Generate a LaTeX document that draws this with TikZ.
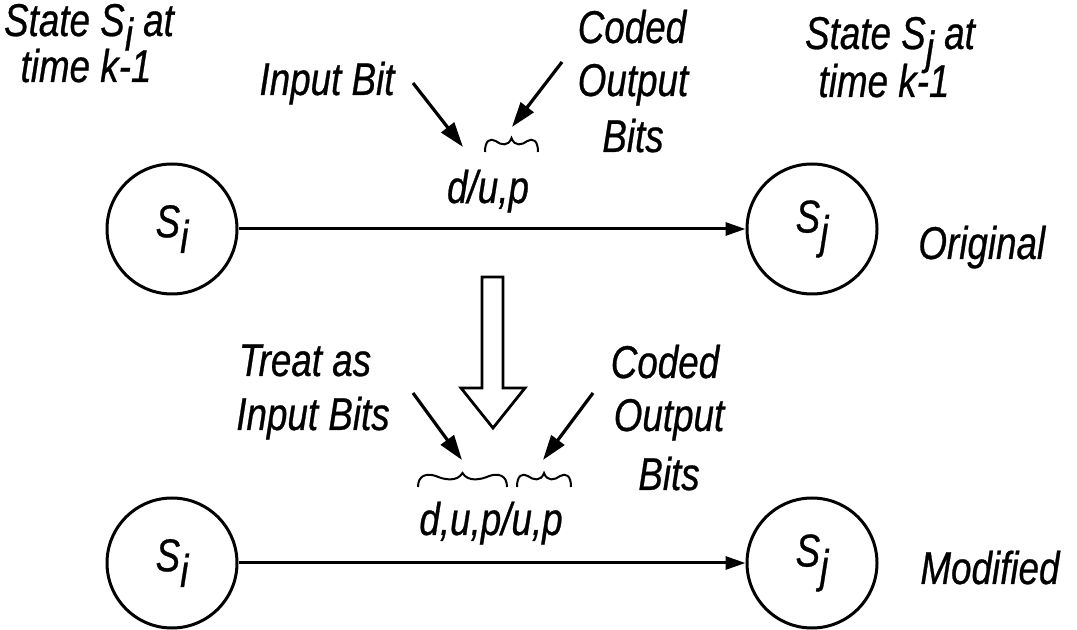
\documentclass[tikz,border=0pt]{standalone}
\usepackage{fontspec}
\setmainfont{Liberation Sans}[FakeStretch=0.80, FakeBold=0.6]
\usetikzlibrary{arrows.meta}

% subscripts set at full size and dropped below the baseline
\newcommand\lowsub[1]{\raisebox{-0.32em}{#1}}
\newcommand\statesub[1]{\raisebox{-0.34em}{#1}}

\tikzset{
  pics/overwave/.style={code={
    \draw[wavy] (0,14) .. controls (0,2) and (#1*0.1,0) .. (#1*0.2,3)
      .. controls (#1*0.3,7) and (#1*0.44,9) .. (#1*0.5,0)
      .. controls (#1*0.56,9) and (#1*0.7,7) .. (#1*0.8,3)
      .. controls (#1*0.9,0) and (#1,2) .. (#1,14);
  }}
}

\begin{document}
\begin{tikzpicture}[x=0.5pt,y=-0.5pt,
  lbl/.style={font=\fontsize{23}{28}\selectfont\itshape, inner sep=0, anchor=base},
  state/.style={circle, draw, line width=1.5pt, minimum size=65pt, inner sep=0,
    font=\fontsize{23}{28}\selectfont\itshape},
  flow/.style={line width=1.5pt, -{Triangle[length=10pt,width=6.5pt]}},
  pointer/.style={line width=1.6pt, -{Triangle[length=12.5pt,width=8pt]}},
  wavy/.style={line width=1pt},
  hollow/.style={line width=1.4pt, fill=white, line join=miter}
]
\useasboundingbox (0,0) rectangle (1077,630);

% states and transitions
\node[state] (si1) at (172,229) {S\statesub{i}};
\node[state] (sj1) at (812,229) {S\statesub{j}};
\node[state] (si2) at (172,563) {S\statesub{i}};
\node[state] (sj2) at (812,563) {S\statesub{j}};
\draw[flow] (si1) -- (sj1);
\draw[flow] (si2) -- (sj2);

\node[lbl, anchor=base west] (orig) at (918,259) {Original};
\node[lbl, anchor=base west] (modif) at (920,584) {Modified};

% state captions
\node[lbl] (sicap1) at (89,36) {State S\lowsub{i} at};
\node[lbl] (sicap2) at (86,82) {time k-1};
\node[lbl] (sjcap1) at (890,49) {State S\lowsub{j} at};
\node[lbl] (sjcap2) at (884,97) {time k-1};

% original branch label
\node[lbl] (lab1) at (488,203) {d/u,p};
\pic (wv1) at (485,138) {overwave=53};
\node[lbl] (inbit) at (327,95) {Input Bit};
\node[lbl] (cod1a) at (632,43) {Coded};
\node[lbl] (cod1b) at (633,96) {Output};
\node[lbl] (cod1c) at (633,152) {Bits};
\coordinate (p1s) at (413,83);  \coordinate (p1e) at (463,147);
\coordinate (p2s) at (562,62);  \coordinate (p2e) at (512,127);
\draw[pointer] (p1s) -- (p1e);
\draw[pointer] (p2s) -- (p2e);

% transformation arrow
\draw[hollow] (482,277) -- (503,277) -- (503,388) -- (525,388) -- (493,428)
  -- (461,388) -- (482,388) -- cycle;

% modified branch label
\node[lbl] (lab2) at (491,535) {d,u,p/u,p};
\pic (wv2) at (418,473) {overwave=89};
\pic (wv3) at (517,473) {overwave=54};
\node[lbl] (treat1) at (305,376) {Treat as};
\node[lbl] (treat2) at (313,430) {Input Bits};
\node[lbl] (cod2a) at (665,378) {Coded};
\node[lbl] (cod2b) at (669,431) {Output};
\node[lbl] (cod2c) at (669,490) {Bits};
\coordinate (p3s) at (413,393); \coordinate (p3e) at (462,460);
\coordinate (p4s) at (593,393); \coordinate (p4e) at (543,460);
\draw[pointer] (p3s) -- (p3e);
\draw[pointer] (p4s) -- (p4e);
\end{tikzpicture}
\end{document}
